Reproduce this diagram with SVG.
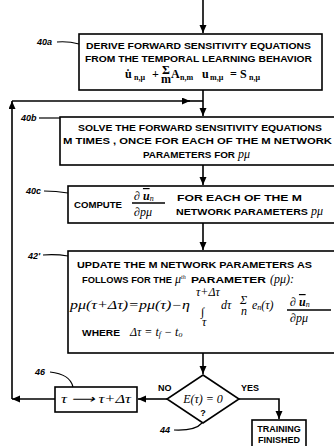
<svg xmlns="http://www.w3.org/2000/svg" width="334" height="446" viewBox="0 0 334 446">
<style>
.box{fill:#fff;stroke:#000;stroke-width:1.6}
.ln{fill:none;stroke:#000;stroke-width:1.6}
.ld{fill:none;stroke:#000;stroke-width:1.2}
.t{font-family:"Liberation Sans",Arial,sans-serif;font-size:9px;font-weight:bold;fill:#000}
.m{font-family:"Liberation Serif","Times New Roman",serif;font-style:italic;font-size:12px;fill:#000}
.mb{font-family:"Liberation Serif","Times New Roman",serif;font-weight:bold;font-size:12px;fill:#000}
.s{font-size:8px}
.ov{text-decoration:overline}
.lbl{font-family:"Liberation Sans",Arial,sans-serif;font-size:9px;font-weight:bold;font-style:italic;fill:#000}
</style>
<defs>
<marker id="ah" markerUnits="userSpaceOnUse" markerWidth="9" markerHeight="8" refX="8" refY="3.5" orient="auto">
<path d="M0,0 L8,3.5 L0,7 z" fill="#000"/>
</marker>
</defs>
<rect width="334" height="446" fill="#fff"/>

<g id="connectors">
<path class="ln" d="M203,0 V33" marker-end="url(#ah)"/>
<path class="ln" d="M203,90 V116" marker-end="url(#ah)"/>
<path class="ln" d="M203,165 V185" marker-end="url(#ah)"/>
<path class="ln" d="M203,223 V250" marker-end="url(#ah)"/>
<path class="ln" d="M203,353 V374" marker-end="url(#ah)"/>
<path class="ln" d="M167,399 H138" marker-end="url(#ah)"/>
<path class="ln" d="M55,399 H12" marker-end="url(#ah)"/>
<path class="ln" d="M12,399 V101" marker-end="url(#ah)"/>
<path class="ln" d="M12,101 H190" marker-end="url(#ah)"/>
<path class="ln" d="M188,101 H203"/>
<path class="ln" d="M239,399 H279 V419" marker-end="url(#ah)"/>
</g>

<g id="n40a">
<rect class="box" x="79" y="34" width="243" height="56"/>
<text class="t" x="86" y="49" textLength="225" lengthAdjust="spacingAndGlyphs">DERIVE FORWARD SENSITIVITY EQUATIONS</text>
<text class="t" x="85" y="62" textLength="227" lengthAdjust="spacingAndGlyphs">FROM THE TEMPORAL LEARNING BEHAVIOR</text>
<text class="mb" x="125" y="78">u&#775;</text>
<text class="mb s" x="134" y="80">n,μ</text>
<text class="mb" x="152" y="78">+</text>
<text class="mb" x="162" y="74" font-size="7">Σ</text>
<text class="mb" x="161" y="83" font-size="6">m</text>
<text class="mb" x="171" y="78">A</text>
<text class="mb s" x="180" y="80">n,m</text>
<text class="mb" x="202" y="78">u</text>
<text class="mb s" x="210" y="80">m,μ</text>
<text class="mb" x="230" y="78">=</text>
<text class="mb" x="240" y="78">S</text>
<text class="mb s" x="249" y="80">n,μ</text>
<text class="lbl" x="37" y="45">40a</text>
<path class="ld" d="M57,42 Q68,41 79,44"/>
</g>

<g id="n40b">
<rect class="box" x="60" y="117" width="290" height="48"/>
<text class="t" x="78" y="131" textLength="244" lengthAdjust="spacingAndGlyphs">SOLVE THE FORWARD SENSITIVITY EQUATIONS</text>
<text class="t" x="63" y="144" textLength="269" lengthAdjust="spacingAndGlyphs">M TIMES , ONCE FOR EACH OF THE M NETWORK</text>
<text class="t" x="143" y="158" textLength="92" lengthAdjust="spacingAndGlyphs">PARAMETERS FOR</text>
<text class="m" x="238" y="158">pμ</text>
<text class="lbl" x="21" y="121">40b</text>
<path class="ld" d="M39,118 H60"/>
</g>

<g id="n40c">
<rect class="box" x="68" y="186" width="282" height="37"/>
<text class="t" x="74" y="208" textLength="48" lengthAdjust="spacingAndGlyphs">COMPUTE</text>
<text class="m" x="134" y="200">∂ <tspan class="ov" font-weight="bold">u</tspan><tspan class="s" dy="1">n</tspan></text>
<path class="ln" d="M132,203 H165" stroke-width="1.2"/>
<text class="m" x="134" y="216">∂pμ</text>
<text class="t" x="177" y="201" textLength="125" lengthAdjust="spacingAndGlyphs">FOR EACH OF THE M</text>
<text class="t" x="176" y="215" textLength="132" lengthAdjust="spacingAndGlyphs">NETWORK PARAMETERS</text>
<text class="m" x="311" y="215">pμ</text>
<text class="lbl" x="26" y="194">40c</text>
<path class="ld" d="M44,191 Q56,191 68,193"/>
</g>

<g id="n42">
<rect class="box" x="68" y="251" width="282" height="102"/>
<text class="t" x="77" y="268" textLength="235" lengthAdjust="spacingAndGlyphs">UPDATE THE M NETWORK PARAMETERS AS</text>
<text class="t" x="82" y="283" textLength="90" lengthAdjust="spacingAndGlyphs">FOLLOWS FOR THE</text>
<text class="m" x="175" y="283">μ<tspan font-size="6" dy="-4">th</tspan></text>
<text class="t" x="191" y="283" textLength="75" lengthAdjust="spacingAndGlyphs">PARAMETER</text>
<text class="m" x="270" y="283">(pμ):</text>
<text class="m" x="70" y="309" font-size="11" textLength="120" lengthAdjust="spacingAndGlyphs">pμ(τ+Δτ)=pμ(τ)−η</text>
<text class="m" x="196" y="296" font-size="10">τ+Δτ</text>
<text class="m" x="201" y="316" font-size="16">∫</text>
<text class="m" x="202" y="326" font-size="10">τ</text>
<text class="m" x="221" y="309">dτ</text>
<text class="m" x="240" y="304" font-size="7">Σ</text>
<text class="m" x="241" y="315" font-size="6">n</text>
<text class="m" x="252" y="309">e<tspan class="s" dy="1">n</tspan><tspan dy="-1">(τ)</tspan></text>
<text class="m" x="290" y="306">∂ <tspan class="ov" font-weight="bold">u</tspan><tspan class="s" dy="1">n</tspan></text>
<path class="ln" d="M287,310 H331" stroke-width="1.2"/>
<text class="m" x="290" y="322">∂pμ</text>
<text class="t" x="82" y="336" textLength="38" lengthAdjust="spacingAndGlyphs">WHERE</text>
<text class="m" x="130" y="336">Δτ = t<tspan class="s" dy="1">f</tspan><tspan dy="-1"> − t</tspan><tspan class="s" dy="1">o</tspan></text>
<text class="lbl" x="28" y="259">42'</text>
<path class="ld" d="M43,255 Q56,254 68,256"/>
</g>

<g id="n44">
<polygon class="box" points="203,375 239,399 203,423 167,399"/>
<text class="m" x="203" y="403" text-anchor="middle" font-size="11">E(τ) = 0</text>
<text class="t" x="203" y="416" text-anchor="middle">?</text>
<text class="t" x="158" y="391">NO</text>
<text class="t" x="241" y="391">YES</text>
<text class="lbl" x="160" y="433">44</text>
<path class="ld" d="M174,430 Q195,431 202,423"/>
</g>

<g id="n46">
<rect class="box" x="55" y="387" width="82" height="25"/>
<text class="m" x="61" y="403" font-size="12" textLength="70" lengthAdjust="spacingAndGlyphs">τ ⟶ τ+Δτ</text>
<text class="lbl" x="35" y="375">46</text>
<path class="ld" d="M50,372 Q70,374 73,387"/>
</g>

<g id="nFinished">
<rect class="box" x="252" y="420" width="54" height="30"/>
<text class="t" x="279" y="432" text-anchor="middle" font-size="8">TRAINING</text>
<text class="t" x="279" y="443" text-anchor="middle" font-size="8">FINISHED</text>
</g>
</svg>
